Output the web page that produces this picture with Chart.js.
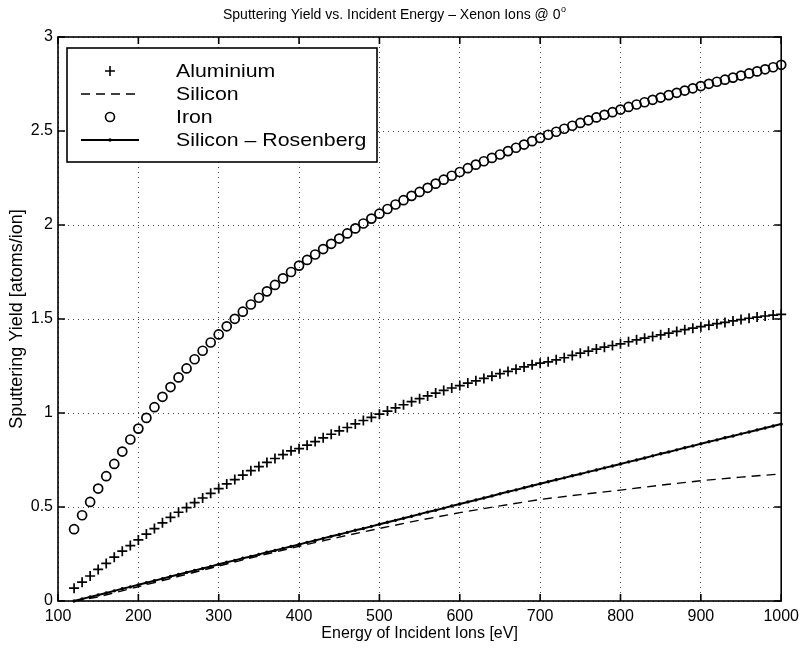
<!DOCTYPE html>
<html>
<head>
<meta charset="utf-8">
<script src="https://cdn.jsdelivr.net/npm/chart.js@4.4.1/dist/chart.umd.min.js"></script>
<style>
  html, body { margin: 0; padding: 0; background: #fff; }
  #wrap { width: 805px; height: 648px; }
</style>
</head>
<body>
<div id="wrap"><canvas id="yieldChart" width="805" height="648"></canvas></div>
<script>
// Sputtering yield data, Xe+ at normal incidence
var energies = [120, 130, 140, 150, 160, 170, 180, 190, 200, 210, 220, 230, 240, 250, 260, 270, 280, 290,
    300, 310, 320, 330, 340, 350, 360, 370, 380, 390, 400, 410, 420, 430, 440, 450, 460, 470, 480, 490,
    500, 510, 520, 530, 540, 550, 560, 570, 580, 590, 600, 610, 620, 630, 640, 650, 660, 670, 680, 690,
    700, 710, 720, 730, 740, 750, 760, 770, 780, 790, 800, 810, 820, 830, 840, 850, 860, 870, 880, 890,
    900, 910, 920, 930, 940, 950, 960, 970, 980, 990, 1000];

var aluminium = [0.068, 0.100, 0.133, 0.168, 0.200, 0.233, 0.265, 0.295, 0.325, 0.356, 0.385, 0.416, 0.445, 0.472, 0.497, 0.523, 0.548, 0.573,
    0.598, 0.623, 0.646, 0.670, 0.693, 0.715, 0.737, 0.758, 0.779, 0.799, 0.810, 0.829, 0.848, 0.868, 0.887, 0.905, 0.923, 0.942, 0.960, 0.977,
    0.994, 1.010, 1.027, 1.044, 1.060, 1.076, 1.091, 1.106, 1.120, 1.133, 1.146, 1.159, 1.171, 1.184, 1.196, 1.209, 1.221, 1.233, 1.245, 1.256,
    1.265, 1.272, 1.283, 1.294, 1.306, 1.318, 1.329, 1.340, 1.350, 1.359, 1.368, 1.379, 1.389, 1.398, 1.407, 1.416, 1.425, 1.434, 1.443, 1.451,
    1.459, 1.467, 1.475, 1.482, 1.490, 1.497, 1.504, 1.510, 1.516, 1.521, 1.525];

var iron = [0.382, 0.456, 0.527, 0.598, 0.664, 0.729, 0.795, 0.859, 0.917, 0.974, 1.031, 1.086, 1.138, 1.189, 1.237, 1.286, 1.331, 1.375,
    1.418, 1.461, 1.501, 1.539, 1.577, 1.613, 1.647, 1.681, 1.716, 1.750, 1.784, 1.814, 1.843, 1.872, 1.900, 1.928, 1.955, 1.982, 2.008, 2.034,
    2.060, 2.085, 2.109, 2.132, 2.155, 2.176, 2.198, 2.220, 2.241, 2.262, 2.282, 2.302, 2.321, 2.339, 2.357, 2.375, 2.393, 2.411, 2.428, 2.446,
    2.463, 2.480, 2.496, 2.512, 2.528, 2.543, 2.557, 2.572, 2.586, 2.600, 2.614, 2.628, 2.641, 2.653, 2.666, 2.678, 2.691, 2.703, 2.715, 2.727,
    2.739, 2.751, 2.762, 2.773, 2.784, 2.795, 2.806, 2.817, 2.828, 2.839, 2.852];

var rosenberg = [0.000, 0.011, 0.022, 0.032, 0.043, 0.054, 0.065, 0.075, 0.086, 0.097, 0.108, 0.119, 0.130, 0.141, 0.152, 0.163, 0.173, 0.184,
    0.195, 0.206, 0.216, 0.227, 0.237, 0.248, 0.259, 0.269, 0.280, 0.290, 0.301, 0.312, 0.322, 0.333, 0.344, 0.354, 0.365, 0.376, 0.386, 0.397,
    0.408, 0.419, 0.429, 0.440, 0.451, 0.462, 0.473, 0.483, 0.494, 0.505, 0.516, 0.527, 0.537, 0.548, 0.559, 0.570, 0.581, 0.591, 0.602, 0.613,
    0.624, 0.634, 0.645, 0.655, 0.666, 0.676, 0.687, 0.697, 0.708, 0.718, 0.729, 0.740, 0.750, 0.761, 0.772, 0.783, 0.793, 0.804, 0.815, 0.825,
    0.836, 0.847, 0.857, 0.868, 0.878, 0.889, 0.899, 0.910, 0.920, 0.931, 0.941];

var siliconEnergy = [120, 150, 200, 250, 300, 350, 400, 450, 500, 550, 600, 650, 700, 750, 800, 850, 900, 950, 1000];
var silicon = [0.000, 0.022, 0.076, 0.131, 0.186, 0.240, 0.291, 0.340, 0.386, 0.430, 0.470, 0.506, 0.540, 0.566, 0.590, 0.616, 0.640, 0.659, 0.676];

var xTicks = [100, 200, 300, 400, 500, 600, 700, 800, 900, 1000];
var yTicks = [0, 0.5, 1, 1.5, 2, 2.5, 3];

var seriesNames = ['Aluminium', 'Silicon', 'Iron', 'Silicon \u2013 Rosenberg'];
var chartTitle = 'Sputtering Yield vs. Incident Energy \u2013 Xenon Ions @ 0';
var xTitle = 'Energy of Incident Ions [eV]';
var yTitle = 'Sputtering Yield [atoms/ion]';

var FONT = '"Liberation Sans", Arial, Helvetica, sans-serif';

function toPoints(xs, ys) {
    return xs.map(function (x, i) { return { x: x, y: ys[i] }; });
}

// Title with a superscript degree mark
var titlePlugin = {
    id: 'plotTitle',
    afterDraw: function (chart) {
        var ctx = chart.ctx;
        ctx.save();
        ctx.fillStyle = '#000';
        ctx.textBaseline = 'alphabetic';
        ctx.textAlign = 'left';
        ctx.font = '14px ' + FONT;
        var x0 = 223;
        var mainW = ctx.measureText(chartTitle).width;
        ctx.fillText(chartTitle, x0, 19);
        ctx.font = '9px ' + FONT;
        ctx.fillText('o', x0 + mainW + 0.5, 12);
        ctx.restore();
    }
};

// Box frame with inward tick marks on all four sides
var framePlugin = {
    id: 'frame',
    afterDatasetsDraw: function (chart) {
        var ctx = chart.ctx;
        var a = chart.chartArea;
        var xs = chart.scales.x, ys = chart.scales.y;
        var len = 7;
        ctx.save();
        ctx.strokeStyle = '#000';
        ctx.lineWidth = 1.6;
        ctx.strokeRect(a.left, a.top, a.right - a.left, a.bottom - a.top);
        ctx.beginPath();
        xTicks.forEach(function (v) {
            var px = xs.getPixelForValue(v);
            ctx.moveTo(px, a.bottom); ctx.lineTo(px, a.bottom - len);
            ctx.moveTo(px, a.top); ctx.lineTo(px, a.top + len);
        });
        yTicks.forEach(function (v) {
            var py = ys.getPixelForValue(v);
            ctx.moveTo(a.left, py); ctx.lineTo(a.left + len, py);
            ctx.moveTo(a.right, py); ctx.lineTo(a.right - len, py);
        });
        ctx.stroke();
        ctx.restore();
    }
};

// Boxed legend in the upper left corner of the plot
var legendPlugin = {
    id: 'boxLegend',
    afterDraw: function (chart) {
        var ctx = chart.ctx;
        var a = chart.chartArea;
        var bx = a.left + 9, by = a.top + 11, bw = 310, bh = 114;
        var symX = bx + 43, textX = bx + 109;
        var rows = [by + 23, by + 46, by + 69, by + 92];
        ctx.save();
        ctx.fillStyle = '#fff';
        ctx.fillRect(bx, by, bw, bh);
        ctx.strokeStyle = '#000';
        ctx.lineWidth = 1.6;
        ctx.strokeRect(bx, by, bw, bh);

        ctx.fillStyle = '#000';
        chart.data.datasets.forEach(function (ds, i) {
            var y = rows[i];
            // label text, slightly widened
            ctx.save();
            ctx.font = '18.5px ' + FONT;
            ctx.textAlign = 'left';
            ctx.textBaseline = 'middle';
            ctx.translate(textX, y + 1);
            ctx.scale(1.15, 1);
            ctx.fillText(ds.label, 0, 0);
            ctx.restore();

            ctx.lineWidth = 1.6;
            ctx.setLineDash([]);
            ctx.beginPath();
            if (ds.pointStyle === 'cross' && !ds.showLine) {
                ctx.moveTo(symX - 5, y); ctx.lineTo(symX + 5, y);
                ctx.moveTo(symX, y - 5); ctx.lineTo(symX, y + 5);
                ctx.stroke();
            } else if (ds.showLine === false) {
                ctx.arc(symX, y, 4.5, 0, Math.PI * 2);
                ctx.stroke();
            } else {
                ctx.setLineDash(ds.borderDash || []);
                ctx.lineWidth = ds.borderWidth;
                ctx.moveTo(symX - 29, y); ctx.lineTo(symX + 29, y);
                ctx.stroke();
                ctx.setLineDash([]);
                if (ds.pointRadius > 0) {
                    ctx.beginPath();
                    ctx.arc(symX, y, ds.pointRadius, 0, Math.PI * 2);
                    ctx.fill();
                }
            }
        });
        ctx.restore();
    }
};

new Chart(document.getElementById('yieldChart'), {
    type: 'line',
    data: {
        datasets: [{
            label: seriesNames[0],
            data: toPoints(energies, aluminium),
            showLine: false,
            pointStyle: 'cross',
            pointRadius: 5,
            pointBorderWidth: 1.7,
            borderColor: '#000',
            backgroundColor: '#000'
        }, {
            label: seriesNames[1],
            data: toPoints(siliconEnergy, silicon),
            showLine: true,
            borderColor: '#000',
            borderWidth: 1.4,
            borderDash: [9, 6],
            pointRadius: 0,
            tension: 0
        }, {
            label: seriesNames[2],
            data: toPoints(energies, iron),
            showLine: false,
            pointStyle: 'circle',
            pointRadius: 4.5,
            pointBorderWidth: 1.7,
            borderColor: '#000',
            backgroundColor: 'rgba(0,0,0,0)'
        }, {
            label: seriesNames[3],
            data: toPoints(energies, rosenberg),
            showLine: true,
            borderColor: '#000',
            backgroundColor: '#000',
            borderWidth: 2,
            pointStyle: 'circle',
            pointRadius: 1.7,
            pointBorderWidth: 0,
            tension: 0
        }]
    },
    options: {
        responsive: false,
        animation: false,
        clip: false,
        layout: { padding: { left: 0, top: 37, right: 20, bottom: 0 } },
        plugins: {
            legend: { display: false },
            tooltip: { enabled: false }
        },
        scales: {
            x: {
                type: 'linear',
                min: 100,
                max: 1000,
                afterBuildTicks: function (scale) {
                    scale.ticks = xTicks.map(function (v) { return { value: v }; });
                },
                afterFit: function (scale) { scale.height = 47; },
                ticks: {
                    color: '#000',
                    font: { family: FONT, size: 16 },
                    padding: 6,
                    maxRotation: 0,
                    callback: function (value) { return String(value); }
                },
                grid: { color: '#444', lineWidth: 1, drawTicks: false },
                border: { display: false, dash: [1, 4] },
                title: {
                    display: true,
                    text: xTitle,
                    color: '#000',
                    font: { family: FONT, size: 16 },
                    padding: { top: 0, bottom: 5 }
                }
            },
            y: {
                type: 'linear',
                min: 0,
                max: 3,
                afterBuildTicks: function (scale) {
                    scale.ticks = yTicks.map(function (v) { return { value: v }; });
                },
                afterFit: function (scale) { scale.width = 58; },
                ticks: {
                    color: '#000',
                    font: { family: FONT, size: 16 },
                    padding: 5,
                    callback: function (value) { return String(value); }
                },
                grid: { color: '#444', lineWidth: 1, drawTicks: false },
                border: { display: false, dash: [1, 4] },
                title: {
                    display: true,
                    text: yTitle,
                    color: '#000',
                    font: { family: FONT, size: 18 },
                    padding: { top: 6, bottom: 0 }
                }
            }
        }
    },
    plugins: [titlePlugin, framePlugin, legendPlugin]
});
</script>
</body>
</html>
